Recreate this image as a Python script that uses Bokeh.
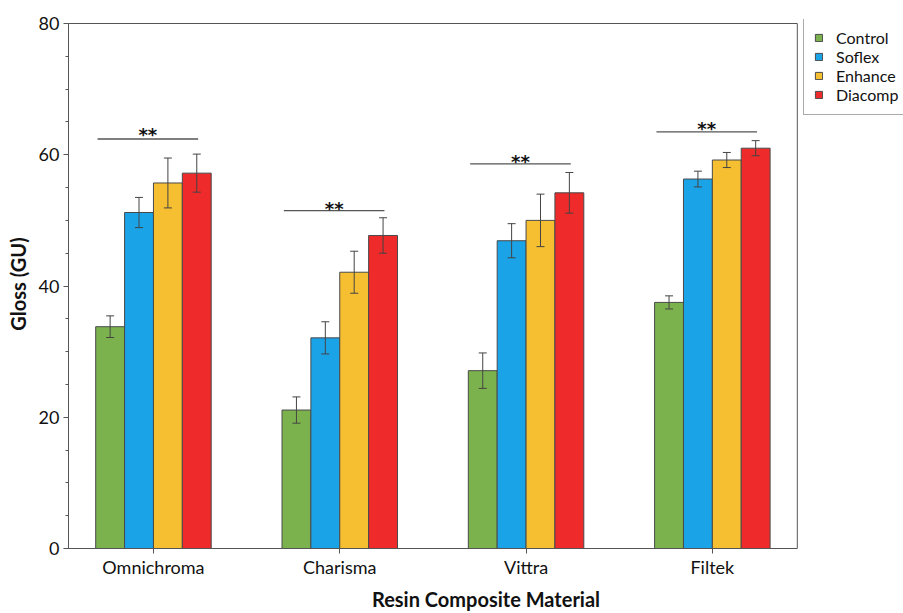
from bokeh.plotting import figure
from bokeh.models import (ColumnDataSource, FixedTicker, Whisker, TeeHead, Legend, LegendItem)
from bokeh.core.properties import value
from bokeh.embed import file_html
from bokeh.resources import INLINE

materials = ["Omnichroma", "Charisma", "Vittra", "Filtek"]
treatments = ["Control", "Soflex", "Enhance", "Diacomp"]
colors = ["#7bb24e", "#1ba3e8", "#f5bf31", "#ee2a2a"]

control = [33.8, 21.1, 27.1, 37.5]
control_err = [1.65, 2.0, 2.7, 1.0]
soflex = [51.2, 32.1, 46.9, 56.3]
soflex_err = [2.3, 2.45, 2.6, 1.2]
enhance = [55.7, 42.1, 50.0, 59.2]
enhance_err = [3.8, 3.2, 4.0, 1.15]
diacomp = [57.2, 47.7, 54.2, 61.0]
diacomp_err = [2.9, 2.7, 3.1, 1.15]

sig_line = [62.4, 51.5, 58.6, 63.5]
sig_star = [64.6, 53.4, 60.5, 65.6]
sig_text = ["**", "**", "**", "**"]

y_ticks = [0, 20, 40, 60, 80]

series = [control, soflex, enhance, diacomp]
errors = [control_err, soflex_err, enhance_err, diacomp_err]

pos = [1, 2, 3, 4]
bar_w = 0.155
offsets = [-1.5 * bar_w, -0.5 * bar_w, 0.5 * bar_w, 1.5 * bar_w]

# axes box (visible plot area) and the wider drawing frame that also hosts the legend
X_LO, X_HI = 0.544, 4.456
Y_LO, Y_HI = 0, 80
FRAME_X_END = 5.026
FRAME_Y_END = 80.61

FONT = "Lato"
AX = "#555555"

p = figure(width=903, height=613, output_backend="svg", toolbar_location=None,
           x_range=(X_LO, FRAME_X_END), y_range=(Y_LO, FRAME_Y_END),
           min_border_left=68, min_border_right=0, min_border_top=19, min_border_bottom=65)

renderers = []
for name, vals, errs, off, col in zip(treatments, series, errors, offsets, colors):
    xs = [x + off for x in pos]
    src = ColumnDataSource(dict(x=xs, top=vals,
                                upper=[v + e for v, e in zip(vals, errs)],
                                lower=[v - e for v, e in zip(vals, errs)]))
    r = p.vbar(x="x", top="top", width=bar_w, bottom=0, source=src,
               fill_color=col, line_color="#4a4a4a", line_width=1)
    renderers.append((name, r))
    w = Whisker(base="x", upper="upper", lower="lower", source=src, level="annotation",
                line_color="#444444", line_width=1,
                upper_head=TeeHead(size=8, line_color="#444444", line_width=1),
                lower_head=TeeHead(size=8, line_color="#444444", line_width=1))
    p.add_layout(w)

# box: top and right borders of the axes area
p.segment(x0=[X_LO, X_HI], y0=[Y_HI, Y_LO], x1=[X_HI, X_HI], y1=[Y_HI, Y_HI],
          line_color=AX, line_width=1)

# significance lines
p.segment(x0=[x - 0.30 for x in pos], x1=[x + 0.24 for x in pos], y0=sig_line, y1=sig_line,
          line_color="#555555", line_width=1.3)
p.text(x=[x - 0.03 for x in pos], y=sig_star, text=sig_text, text_align="center",
       text_baseline="alphabetic", y_offset=10, text_font=value("DejaVu Sans"),
       text_font_style="bold", text_font_size="18px", text_color="#111111")

legend = Legend(items=[LegendItem(label=n, renderers=[r]) for n, r in renderers],
                location=(735, 433), border_line_color=AX, border_line_width=1,
                label_text_font=FONT, label_text_font_size="16px", label_text_color="#111111",
                glyph_width=9, glyph_height=9, label_height=19, spacing=0,
                padding=10, margin=0, label_standoff=13, background_fill_alpha=1)
p.add_layout(legend, "center")

p.xaxis.ticker = FixedTicker(ticks=pos)
p.xaxis.major_label_overrides = {x: m for x, m in zip(pos, materials)}
p.yaxis.ticker = FixedTicker(ticks=y_ticks, minor_ticks=list(range(0, 81, 5)))
p.xaxis.bounds = (X_LO, X_HI)
p.yaxis.bounds = (Y_LO, Y_HI)

for ax in (p.xaxis, p.yaxis):
    ax.axis_line_color = AX
    ax.major_tick_line_color = AX
    ax.minor_tick_line_color = AX
    ax.major_tick_out = 5
    ax.major_tick_in = 0
    ax.minor_tick_out = 3
    ax.minor_tick_in = 0
    ax.major_label_text_font = FONT
    ax.major_label_text_font_size = "18px"
    ax.major_label_text_color = "#111111"
    ax.axis_label_text_font = FONT
    ax.axis_label_text_font_style = "bold"
    ax.axis_label_text_font_size = "20px"
    ax.axis_label_text_color = "#111111"

p.xaxis.minor_tick_line_color = None
p.xaxis.axis_label = "Resin Composite Material"
p.yaxis.axis_label = "Gloss (GU)"
p.xaxis.major_label_standoff = 2
p.xaxis.axis_label_standoff = 6
p.yaxis.major_label_standoff = 4
p.yaxis.axis_label_standoff = 6

p.xgrid.grid_line_color = None
p.ygrid.grid_line_color = None
p.outline_line_color = None
p.background_fill_color = "white"
p.border_fill_color = "white"

open("out.html", "w").write(file_html(p, INLINE))
